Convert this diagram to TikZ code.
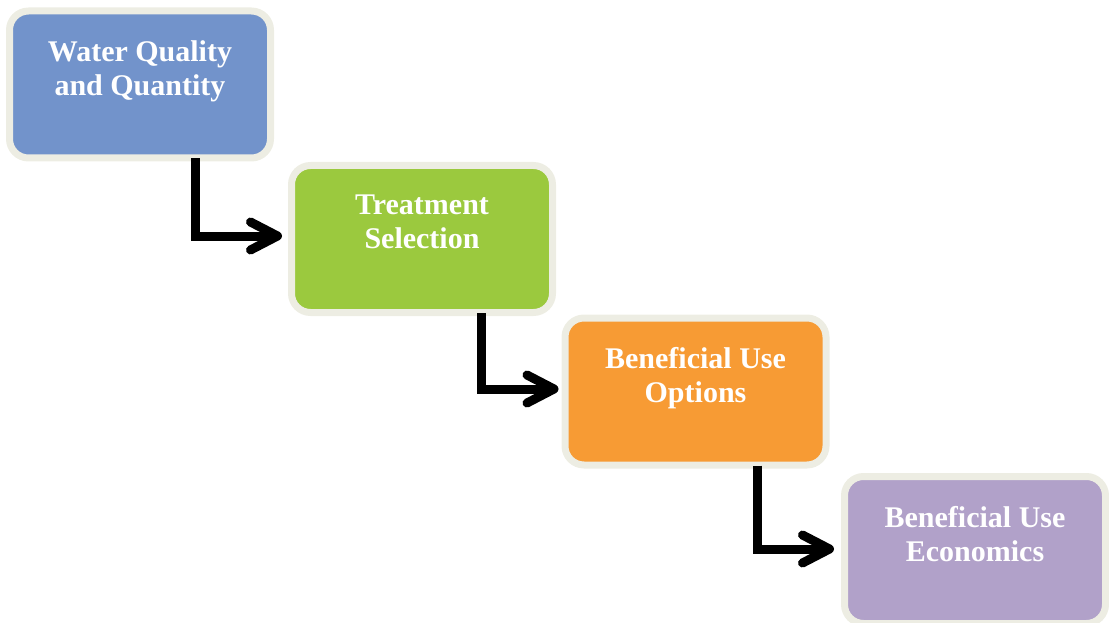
\documentclass[tikz,border=0pt]{standalone}
\usepackage{fontspec}
\setmainfont{Liberation Serif}
\usetikzlibrary{arrows.meta}
\definecolor{frameC}{HTML}{EDEDE3}
\definecolor{blueC}{HTML}{7293CB}
\definecolor{greenC}{HTML}{9BC93E}
\definecolor{orangeC}{HTML}{F79B34}
\definecolor{purpleC}{HTML}{B1A1C9}
\tikzset{
  stagebox/.style={draw=frameC, line width=7pt, rounded corners=19pt,
    minimum width=261pt, minimum height=147pt, inner sep=0pt},
  stagetext/.style={anchor=north, align=center, text=white, inner sep=0pt,
    font=\bfseries\fontsize{30}{34}\selectfont},
  flow/.style={line width=9pt, line join=miter, line cap=butt,
    -{Straight Barb[length=27pt, width=28pt, round]}},
}
\begin{document}
\begin{tikzpicture}[x=1pt, y=-1pt]
\useasboundingbox (0,0) rectangle (1109,623);
% four process stages, stepping down to the right
\node[stagebox, fill=blueC]   (b1) at (140,84.5) {};
\node[stagebox, fill=greenC]  (b2) at (422,239) {};
\node[stagebox, fill=orangeC] (b3) at (695.5,391.5) {};
\node[stagebox, fill=purpleC] (b4) at (975,550) {};
% captions in the upper part of each stage
\node[stagetext] (t1) at ([yshift=-33pt]b1.north) {Water Quality\\and Quantity};
\node[stagetext] (t2) at ([yshift=-33pt]b2.north) {Treatment\\Selection};
\node[stagetext] (t3) at ([yshift=-33pt]b3.north) {Beneficial Use\\Options};
\node[stagetext] (t4) at ([yshift=-33pt]b4.north) {Beneficial Use\\Economics};
% elbow connectors between stages
\draw[flow, shorten >=6pt] ([xshift=55pt,yshift=3pt]b1.south) |- ([yshift=3pt]b2.west);
\draw[flow, shorten >=3pt] ([xshift=59.5pt,yshift=3pt]b2.south) |- ([yshift=2.5pt]b3.west);
\draw[flow, shorten >=7pt] ([xshift=62pt,yshift=3pt]b3.south) |- ([yshift=1pt]b4.west);
\end{tikzpicture}
\end{document}
